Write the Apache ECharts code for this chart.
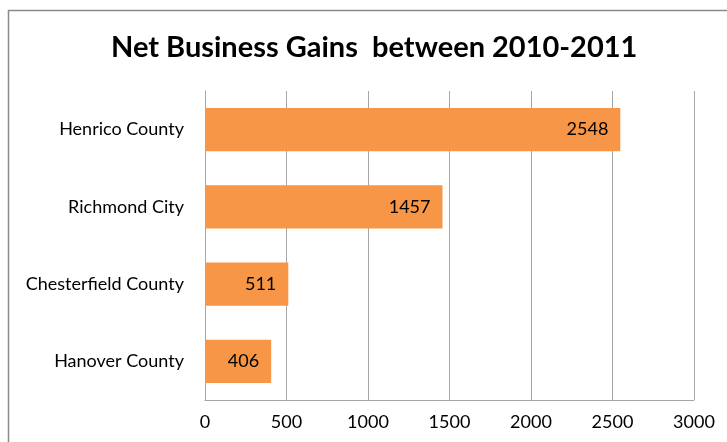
<!DOCTYPE html>
<html><head><meta charset="utf-8">
<script src="https://cdn.jsdelivr.net/npm/echarts@6/dist/echarts.min.js"></script>
<style>html,body{margin:0;padding:0;background:#fff}#c{width:727px;height:442px}</style>
</head><body><div id="c"></div>
<script>
const categories = ["Henrico County", "Richmond City", "Chesterfield County", "Hanover County"];
const values = [2548, 1457, 511, 406];
const xTicks = [0, 500, 1000, 1500, 2000, 2500, 3000];
const titleText = "Net Business Gains  between 2010-2011";

const chart = echarts.init(document.getElementById('c'), null, {renderer: 'canvas'});
chart.setOption({
  animation: false,
  backgroundColor: '#fff',
  title: {
    text: titleText, left: 106, top: 28,
    textStyle: {fontFamily: 'Lato', fontWeight: 'bold', fontSize: 29, color: '#000'}
  },
  graphic: [{type: 'rect', shape: {x: 8.5, y: 10.5, width: 800, height: 500},
    style: {fill: 'none', stroke: '#8a8a8a', lineWidth: 1.5}, silent: true}],
  grid: {left: 205, right: 33, top: 91, bottom: 42, containLabel: false},
  xAxis: {
    type: 'value', min: xTicks[0], max: xTicks[xTicks.length - 1], interval: 500,
    axisLine: {show: true, lineStyle: {color: '#a6a6a6'}}, axisTick: {show: false},
    splitLine: {show: true, lineStyle: {color: '#a6a6a6', width: 1}},
    axisLabel: {fontFamily: 'Lato', fontSize: 18, color: '#000', margin: 13,
      formatter: v => String(v)}
  },
  yAxis: {
    type: 'category', data: categories, inverse: true,
    axisLine: {show: true, lineStyle: {color: '#a6a6a6'}},
    axisTick: {show: false},
    axisLabel: {fontFamily: 'Lato', fontSize: 18, color: '#000', margin: 21}
  },
  series: [{
    type: 'bar', data: values, barCategoryGap: '44%',
    itemStyle: {color: '#F79646'},
    label: {show: true, position: 'insideRight', distance: 12,
      fontFamily: 'Lato', fontSize: 18, color: '#000'}
  }]
});
</script></body></html>
